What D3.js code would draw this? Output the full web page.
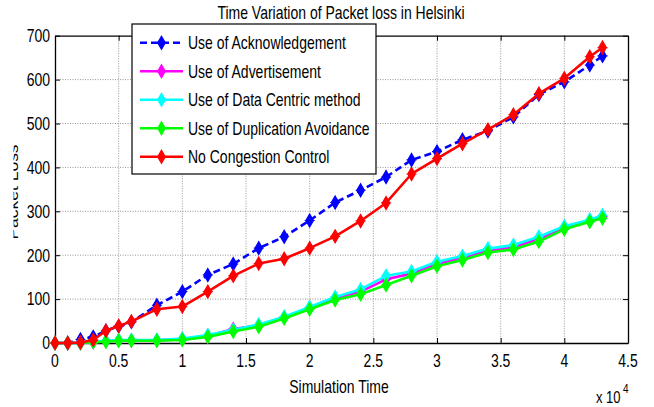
<!DOCTYPE html>
<html><head><meta charset="utf-8">
<script src="https://cdn.jsdelivr.net/npm/d3@7"></script>
<style>
body{margin:0;background:#fff}
svg{display:block}
text{font-family:"Liberation Sans",Arial,Helvetica,sans-serif;fill:#000}
</style>
</head><body>
<svg id="c" width="654" height="407"></svg>
<script>
// ---- data ----
const times = [0,1000,2000,3000,4000,5000,6000,8000,10000,12000,14000,16000,18000,20000,22000,24000,26000,28000,30000,32000,34000,36000,38000,40000,42000,43000];
const ackLoss   = [0,0,8,14,28,38,48,86,117,155,180,216,242,279,320,348,378,417,436,463,483,515,566,595,633,654];
const advLoss   = [0,0,0,2,4,6,6,6,9,16,32,40,58,80,102,117,145,158,180,194,210,218,237,262,279,288];
const dataLoss  = [0,0,0,3,5,7,7,7,10,18,30,42,60,82,105,122,153,163,185,198,215,223,242,266,281,291];
const dupLoss   = [0,0,0,2,3,5,5,5,7,14,26,37,56,77,98,111,132,153,175,189,206,213,231,259,276,284];
const noccLoss  = [0,0,1,7,28,39,49,77,83,117,153,181,192,216,243,278,319,385,420,454,486,520,568,603,652,673];
const seriesNames = ["Use of Acknowledgement","Use of Advertisement","Use of Data Centric method","Use of Duplication Avoidance","No Congestion Control"];
const xTickValues = [0,5000,10000,15000,20000,25000,30000,35000,40000,45000];
const xTickLabels = ["0","0.5","1","1.5","2","2.5","3","3.5","4","4.5"];
const yTickValues = [0,100,200,300,400,500,600,700];
const yTickLabels = ["0","100","200","300","400","500","600","700"];
const titleText = "Time Variation of Packet loss in Helsinki";
const xLabelText = "Simulation Time";
const yLabelText = "Packet Loss";

// ---- layout ----
const L=55, R=628, T=35.7, B=343, SY=1.25;
const svg = d3.select("#c");
const x = d3.scaleLinear().domain([0,45000]).range([L,R]);
const y = d3.scaleLinear().domain([0,700]).range([B,T]);

const series = [
  {name:seriesNames[0], values:ackLoss,  color:"#0000ff", dash:"7,4"},
  {name:seriesNames[1], values:advLoss,  color:"#ff00ff", dash:null},
  {name:seriesNames[2], values:dataLoss, color:"#00ffff", dash:null},
  {name:seriesNames[3], values:dupLoss,  color:"#00ff00", dash:null},
  {name:seriesNames[4], values:noccLoss, color:"#ff0000", dash:null}
];

function txt(parent, px, py, s, anchor, size){
  return parent.append("text")
    .attr("transform", `translate(${px},${py}) scale(1,${SY})`)
    .attr("text-anchor", anchor||"middle")
    .attr("dy","0.36em")
    .attr("font-size", size||14)
    .text(s);
}

// grid
const grid = svg.append("g").attr("stroke","#7a7a7a").attr("stroke-width",0.8).attr("stroke-dasharray","1,1.5");
grid.selectAll(".gx").data(xTickValues.slice(1,-1)).join("line")
  .attr("x1",d=>x(d)).attr("x2",d=>x(d)).attr("y1",T).attr("y2",B);
grid.selectAll(".gy").data(yTickValues.slice(1,-1)).join("line")
  .attr("y1",d=>y(d)).attr("y2",d=>y(d)).attr("x1",L).attr("x2",R);

// axes (inward ticks on all sides)
function styleAxis(g){
  g.selectAll("path.domain").attr("stroke","#000").attr("stroke-width",1.3);
  g.selectAll(".tick line").attr("stroke","#000").attr("stroke-width",1);
}
svg.append("g").attr("transform",`translate(0,${B})`)
  .call(d3.axisBottom(x).tickValues(xTickValues).tickSize(-5).tickSizeOuter(0).tickFormat(""))
  .call(styleAxis);
svg.append("g").attr("transform",`translate(0,${T})`)
  .call(d3.axisTop(x).tickValues(xTickValues).tickSize(-5).tickSizeOuter(0).tickFormat(""))
  .call(styleAxis);
svg.append("g").attr("transform",`translate(${L},0)`)
  .call(d3.axisLeft(y).tickValues(yTickValues).tickSize(-5).tickSizeOuter(0).tickFormat(""))
  .call(styleAxis);
svg.append("g").attr("transform",`translate(${R},0)`)
  .call(d3.axisRight(y).tickValues(yTickValues).tickSize(-5).tickSizeOuter(0).tickFormat(""))
  .call(styleAxis);

// tick labels
const labels = svg.append("g");
xTickValues.forEach((v,i)=> txt(labels, x(v), 361, xTickLabels[i], "middle"));
yTickValues.forEach((v,i)=> txt(labels, 50, y(v), yTickLabels[i], "end"));

// marker symbol
const markerType = {draw(ctx){
  const w=3.8, h=6.5;
  ctx.moveTo(0,-h); ctx.lineTo(w,0); ctx.lineTo(0,h); ctx.lineTo(-w,0); ctx.closePath();
  ctx.moveTo(-w-1.2,0); ctx.lineTo(w+1.2,0);
}};
const marker = d3.symbol().type(markerType);

// lines
const line = d3.line().x((d,i)=>x(times[i])).y(d=>y(d));
series.forEach(s=>{
  const g = svg.append("g");
  g.append("path").datum(s.values).attr("d",line)
    .attr("fill","none").attr("stroke",s.color).attr("stroke-width",2.6)
    .attr("stroke-linejoin","round")
    .attr("stroke-dasharray",s.dash);
  g.selectAll("path.m").data(s.values).join("path").attr("class","m")
    .attr("d",marker()).attr("transform",(d,i)=>`translate(${x(times[i])},${y(d)})`)
    .attr("fill",s.color).attr("stroke",s.color).attr("stroke-width",1.2);
});

// title & axis labels
txt(svg, 341, 13, titleText, "middle");
txt(svg, 339, 387, xLabelText, "middle");
txt(svg, 596, 397, "x 10", "start", 13);
txt(svg, 623, 388, "4", "start", 10);

// y label (mostly clipped off at left, as in reference)
svg.append("clipPath").attr("id","ylc").append("rect").attr("x",13.5).attr("y",0).attr("width",10).attr("height",407);
svg.append("g").attr("clip-path","url(#ylc)")
  .append("text").attr("transform","translate(17.5,192) rotate(-90) scale(1.25,1)")
  .attr("text-anchor","middle").attr("font-size",14).text(yLabelText);

// legend
const lg = svg.append("g");
lg.append("rect").attr("x",132).attr("y",24).attr("width",244).attr("height",150)
  .attr("fill","#fff").attr("stroke","#000").attr("stroke-width",1.2);
const rowY = i => 42.7 + i*28.5;
series.forEach((s,i)=>{
  lg.append("line").attr("x1",140).attr("x2",183).attr("y1",rowY(i)).attr("y2",rowY(i))
    .attr("stroke",s.color).attr("stroke-width",2.6).attr("stroke-dasharray",s.dash);
  lg.append("path").attr("d",marker()).attr("transform",`translate(161.5,${rowY(i)})`)
    .attr("fill",s.color).attr("stroke",s.color).attr("stroke-width",1.2);
  txt(lg, 188, rowY(i), s.name, "start");
});
</script>
</body></html>
